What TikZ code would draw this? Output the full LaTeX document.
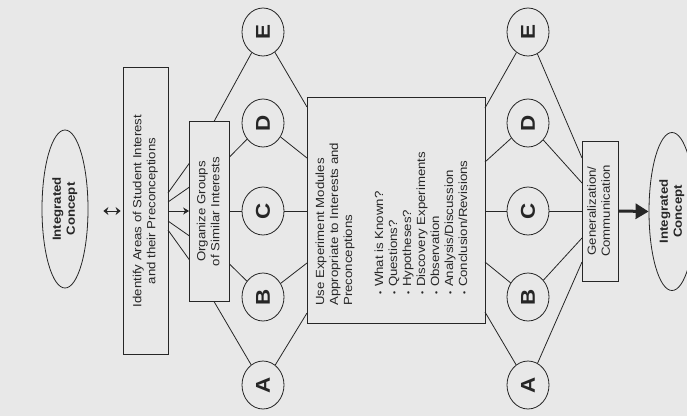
\documentclass[tikz,border=0pt]{standalone}
\usepackage{fontspec}
\setmainfont{Liberation Sans}
\usepackage{graphicx}
\usetikzlibrary{arrows.meta,shapes.geometric}
\newcommand\rtx[1]{\rotatebox{90}{\scalebox{1.12}[1]{#1}}}
\newcommand\ctab[1]{\begin{tabular}{@{}c@{}}#1\end{tabular}}
\newcommand\ltab[1]{\begin{tabular}{@{}l@{}}#1\end{tabular}}
\newcommand\itm[1]{\hspace*{10pt}{\fontsize{8}{8}\selectfont •}\hspace{4pt}#1}
\begin{document}
\begin{tikzpicture}[x=1pt,y=-1pt,
  ink/.style={draw=black!85, line width=0.8pt},
  txt/.style={font=\fontsize{11.8}{14}\selectfont, text=black!85},
  boxnode/.style={ink, txt, rectangle, inner sep=0pt},
  oval/.style={ink, ellipse, inner sep=0pt, minimum width=46, minimum height=158,
    font=\bfseries\fontsize{11.8}{14}\selectfont, text=black!85},
  letter/.style={ink, ellipse, inner sep=0pt, minimum width=42, minimum height=48,
    font=\bfseries\fontsize{20}{20}\selectfont, text=black!85},
  wire/.style={draw=black!85, line width=0.8pt},
]
\fill[white!91!black] (0,0) rectangle (687,416);
\useasboundingbox (0,0) rectangle (687,416);

% left part
\node[oval] (icL) at (65,209) {\rtx{\ctab{Integrated\\Concept}}};
\node[boxnode, minimum width=45, minimum height=287] (ident) at (145.5,211)
  {\rtx{\ctab{Identify Areas of Student Interest\\and their Preconceptions}}};
\node[boxnode, minimum width=40, minimum height=180] (org) at (209.5,211.5)
  {\rtx{\ctab{Organize Groups\\of Similar Interests}}};

% left circles
\node[letter] (EL) at (263,32)  {\rtx{E}};
\node[letter] (DL) at (263,123) {\rtx{D}};
\node[letter] (CL) at (263,211) {\rtx{C}};
\node[letter] (BL) at (263,297) {\rtx{B}};
\node[letter] (AL) at (263,385) {\rtx{A}};

% middle box
\node[boxnode, minimum width=178, minimum height=226] (mid) at (396,210) {};
\node[txt, anchor=south west, inner sep=0pt] (midtxt) at (314,306)
  {\rtx{\ltab{Use Experiment Modules\\Appropriate to Interests and\\Preconceptions\\[17pt]
  \itm{What is Known?}\\ \itm{Questions?}\\ \itm{Hypotheses?}\\
  \itm{Discovery Experiments}\\ \itm{Observation}\\ \itm{Analysis/Discussion}\\
  \itm{Conclusion/Revisions}}}};

% right circles
\node[letter] (ER) at (528,32)  {\rtx{E}};
\node[letter] (DR) at (528,123) {\rtx{D}};
\node[letter] (CR) at (528,211) {\rtx{C}};
\node[letter] (BR) at (528,297) {\rtx{B}};
\node[letter] (AR) at (528,385) {\rtx{A}};

% right part
\node[boxnode, minimum width=36, minimum height=140] (gen) at (600,211)
  {\rtx{\ctab{Generalization/\\Communication}}};
\node[oval] (icR) at (672,211.5) {\rtx{\ctab{Integrated\\Concept}}};

% connection points
\coordinate (f1s) at (168,193); \coordinate (f1t) at (189.5,163);
\coordinate (f2s) at (168,202); \coordinate (f2t) at (189.5,187);
\coordinate (f4s) at (168,221); \coordinate (f4t) at (189.5,236);
\coordinate (f5s) at (168,230); \coordinate (f5t) at (189.5,260);

\coordinate (oE) at (214,121.5); \coordinate (oD) at (229.5,157);
\coordinate (oC) at (229.5,211); \coordinate (oB) at (229.5,264);
\coordinate (oA) at (214,301.5);

\coordinate (mL1) at (307,107); \coordinate (mL2) at (307,158);
\coordinate (mL3) at (307,211); \coordinate (mL4) at (307,263);
\coordinate (mL5) at (307,313);

\coordinate (mR1) at (485,108); \coordinate (mR2) at (485,162);
\coordinate (mR3) at (485,211); \coordinate (mR4) at (485,262);
\coordinate (mR5) at (485,312);

\coordinate (g1) at (582,158); \coordinate (g2) at (582,183);
\coordinate (g3) at (582,211); \coordinate (g4) at (582,238);
\coordinate (g5) at (582,262);

% double arrow
\draw[wire, line width=1pt, {Stealth[length=5pt,width=8pt]}-{Stealth[length=5pt,width=8pt]},
  shorten <=15pt, shorten >=2pt] (icL.east |- ident.west) -- (ident.west);

% fan
\draw[wire] (f1s) -- (f1t);
\draw[wire] (f2s) -- (f2t);
\draw[wire, -{Stealth[length=6pt,width=7pt]}] (ident.east) -- (ident.east -| org.west);
\draw[wire] (f4s) -- (f4t);
\draw[wire] (f5s) -- (f5t);

% organize -> circles
\draw[wire] (oE) -- (EL);
\draw[wire] (oD) -- (DL);
\draw[wire] (oC) -- (CL);
\draw[wire] (oB) -- (BL);
\draw[wire] (oA) -- (AL);

% circles -> middle box
\draw[wire] (EL) -- (mL1);
\draw[wire] (DL) -- (mL2);
\draw[wire] (CL) -- (mL3);
\draw[wire] (BL) -- (mL4);
\draw[wire] (AL) -- (mL5);

% middle box -> right circles
\draw[wire] (mR1) -- (ER);
\draw[wire] (mR2) -- (DR);
\draw[wire] (mR3) -- (CR);
\draw[wire] (mR4) -- (BR);
\draw[wire] (mR5) -- (AR);

% right circles -> generalization
\draw[wire] (ER) -- (g1);
\draw[wire] (DR) -- (g2);
\draw[wire] (CR) -- (g3);
\draw[wire] (BR) -- (g4);
\draw[wire] (AR) -- (g5);

% thick arrow
\draw[draw=black!85, line width=3pt, -{Triangle[length=13pt,width=15pt]}]
  (gen.east) -- (icR.west);
\end{tikzpicture}
\end{document}
